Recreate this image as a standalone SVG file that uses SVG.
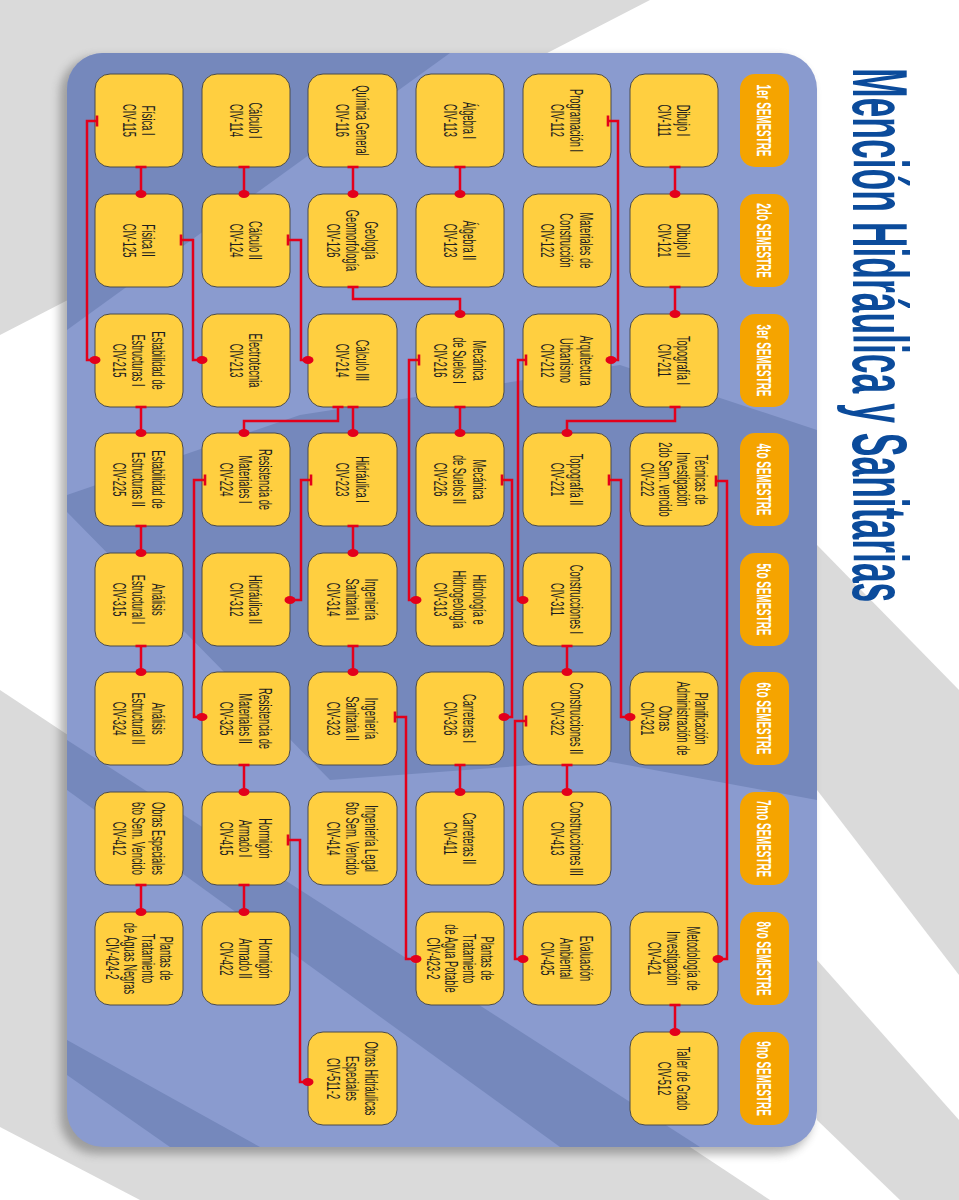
<svg xmlns="http://www.w3.org/2000/svg" width="959" height="1200" viewBox="0 0 959 1200">
<defs>
<style>
.box{fill:#ffcf40;stroke:#4a4a4a;stroke-width:1}
.sem{fill:#f5a400}
.t{font-family:"Liberation Sans",Arial,sans-serif;font-size:19px;fill:#1e1e1e;text-anchor:middle}
.st{font-family:"Liberation Sans",Arial,sans-serif;font-size:21px;font-weight:bold;fill:#ffffff;text-anchor:middle}
.c{fill:none;stroke:#e3001b;stroke-width:2.5;marker-start:url(#tick);marker-end:url(#dot)}
</style>
<marker id="tick" markerUnits="userSpaceOnUse" markerWidth="14" markerHeight="14" viewBox="-7 -7 14 14" refX="0" refY="0" orient="auto"><rect x="-1.3" y="-5.5" width="2.6" height="11" fill="#e3001b"/></marker>
<marker id="dot" markerUnits="userSpaceOnUse" markerWidth="14" markerHeight="14" viewBox="-7 -7 14 14" refX="0" refY="0"><ellipse cx="0" cy="0" rx="5.5" ry="4" fill="#e3001b"/></marker>
<clipPath id="pc"><rect x="67" y="53" width="750" height="1094" rx="36"/></clipPath>
<filter id="sh" x="-10%" y="-10%" width="120%" height="120%"><feGaussianBlur stdDeviation="5"/></filter>
</defs>
<rect width="959" height="1200" fill="#ffffff"/>
<g id="background" fill="#dadada">
<polygon points="0,0 650,0 0,335"/>
<polygon points="0,690 0,1127 140,1200 770,1200"/>
<polygon points="817,545 959,690 959,975 817,790"/>
<polygon points="817,960 959,1120 959,1200 900,1200 817,1120"/>
</g>
<rect x="60" y="57" width="752" height="1097" rx="36" fill="#555" opacity="0.45" filter="url(#sh)"/>
<g id="panel">
<rect x="67" y="53" width="750" height="1094" rx="36" fill="#8a9bcf"/>
<g clip-path="url(#pc)" fill="#7588bc">
<polygon points="67,53 450,53 67,330"/>
<polygon points="67,495 300,415 620,365 817,430 817,800 600,760 330,780 67,512"/>
<polygon points="67,740 67,790 560,1147 700,1147"/>
<polygon points="67,1040 67,1075 170,1147 260,1147"/>
</g>
</g>
<text id="title" transform="translate(853,68) rotate(90) scale(0.455,1)" font-family="'Liberation Sans',Arial,sans-serif" font-size="78" font-weight="bold" fill="#0b4b9b">Mención Hidráulica y Sanitarias</text>

<g id="semesters">
<g id="s1"><rect class="sem" x="740" y="74" width="49" height="93" rx="15"/><text class="st" transform="translate(764.5,120.5) rotate(90) scale(0.47,1)" y="7.5">1er SEMESTRE</text></g>
<g id="s2"><rect class="sem" x="740" y="194" width="49" height="93" rx="15"/><text class="st" transform="translate(764.5,240.5) rotate(90) scale(0.47,1)" y="7.5">2do SEMESTRE</text></g>
<g id="s3"><rect class="sem" x="740" y="314" width="49" height="93" rx="15"/><text class="st" transform="translate(764.5,360.5) rotate(90) scale(0.47,1)" y="7.5">3er SEMESTRE</text></g>
<g id="s4"><rect class="sem" x="740" y="433" width="49" height="93" rx="15"/><text class="st" transform="translate(764.5,479.5) rotate(90) scale(0.47,1)" y="7.5">4to SEMESTRE</text></g>
<g id="s5"><rect class="sem" x="740" y="553" width="49" height="93" rx="15"/><text class="st" transform="translate(764.5,599.5) rotate(90) scale(0.47,1)" y="7.5">5to SEMESTRE</text></g>
<g id="s6"><rect class="sem" x="740" y="672" width="49" height="93" rx="15"/><text class="st" transform="translate(764.5,718.5) rotate(90) scale(0.47,1)" y="7.5">6to SEMESTRE</text></g>
<g id="s7"><rect class="sem" x="740" y="792" width="49" height="93" rx="15"/><text class="st" transform="translate(764.5,838.5) rotate(90) scale(0.47,1)" y="7.5">7mo SEMESTRE</text></g>
<g id="s8"><rect class="sem" x="740" y="912" width="49" height="93" rx="15"/><text class="st" transform="translate(764.5,958.5) rotate(90) scale(0.47,1)" y="7.5">8vo SEMESTRE</text></g>
<g id="s9"><rect class="sem" x="740" y="1032" width="49" height="93" rx="15"/><text class="st" transform="translate(764.5,1078.5) rotate(90) scale(0.47,1)" y="7.5">9no SEMESTRE</text></g>
</g>

<g id="nodes">
<!-- row 1 -->
<g id="civ115"><rect class="box" x="95" y="74" width="88" height="93" rx="15"/><text class="t" transform="translate(139,120.5) rotate(90) scale(0.49,1)"><tspan x="0" y="-3.2">Física I</tspan><tspan x="0" y="16.3">CIV-115</tspan></text></g>
<g id="civ114"><rect class="box" x="202" y="74" width="88" height="93" rx="15"/><text class="t" transform="translate(246,120.5) rotate(90) scale(0.49,1)"><tspan x="0" y="-3.2">Cálculo I</tspan><tspan x="0" y="16.3">CIV-114</tspan></text></g>
<g id="civ116"><rect class="box" x="308" y="74" width="89" height="93" rx="15"/><text class="t" transform="translate(352.5,120.5) rotate(90) scale(0.49,1)"><tspan x="0" y="-3.2">Química General</tspan><tspan x="0" y="16.3">CIV-116</tspan></text></g>
<g id="civ113"><rect class="box" x="416" y="74" width="88" height="93" rx="15"/><text class="t" transform="translate(460,120.5) rotate(90) scale(0.49,1)"><tspan x="0" y="-3.2">Álgebra I</tspan><tspan x="0" y="16.3">CIV-113</tspan></text></g>
<g id="civ112"><rect class="box" x="523" y="74" width="88" height="93" rx="15"/><text class="t" transform="translate(567,120.5) rotate(90) scale(0.49,1)"><tspan x="0" y="-3.2">Programación I</tspan><tspan x="0" y="16.3">CIV-112</tspan></text></g>
<g id="civ111"><rect class="box" x="630" y="74" width="88" height="93" rx="15"/><text class="t" transform="translate(674,120.5) rotate(90) scale(0.49,1)"><tspan x="0" y="-3.2">Dibujo I</tspan><tspan x="0" y="16.3">CIV-111</tspan></text></g>
<!-- row 2 -->
<g id="civ125"><rect class="box" x="95" y="194" width="88" height="93" rx="15"/><text class="t" transform="translate(139,240.5) rotate(90) scale(0.49,1)"><tspan x="0" y="-3.2">Física II</tspan><tspan x="0" y="16.3">CIV-125</tspan></text></g>
<g id="civ124"><rect class="box" x="202" y="194" width="88" height="93" rx="15"/><text class="t" transform="translate(246,240.5) rotate(90) scale(0.49,1)"><tspan x="0" y="-3.2">Cálculo II</tspan><tspan x="0" y="16.3">CIV-124</tspan></text></g>
<g id="civ126"><rect class="box" x="308" y="194" width="89" height="93" rx="15"/><text class="t" transform="translate(352.5,240.5) rotate(90) scale(0.49,1)"><tspan x="0" y="-13">Geología</tspan><tspan x="0" y="6.5">Geomorfología</tspan><tspan x="0" y="26">CIV-126</tspan></text></g>
<g id="civ123"><rect class="box" x="416" y="194" width="88" height="93" rx="15"/><text class="t" transform="translate(460,240.5) rotate(90) scale(0.49,1)"><tspan x="0" y="-3.2">Álgebra II</tspan><tspan x="0" y="16.3">CIV-123</tspan></text></g>
<g id="civ122"><rect class="box" x="523" y="194" width="88" height="93" rx="15"/><text class="t" transform="translate(567,240.5) rotate(90) scale(0.49,1)"><tspan x="0" y="-13">Materiales de</tspan><tspan x="0" y="6.5">Construcción</tspan><tspan x="0" y="26">CIV-122</tspan></text></g>
<g id="civ121"><rect class="box" x="630" y="194" width="88" height="93" rx="15"/><text class="t" transform="translate(674,240.5) rotate(90) scale(0.49,1)"><tspan x="0" y="-3.2">Dibujo II</tspan><tspan x="0" y="16.3">CIV-121</tspan></text></g>
<!-- row 3 -->
<g id="civ215"><rect class="box" x="95" y="314" width="88" height="93" rx="15"/><text class="t" transform="translate(139,360.5) rotate(90) scale(0.49,1)"><tspan x="0" y="-13">Estabilidad de</tspan><tspan x="0" y="6.5">Estructuras I</tspan><tspan x="0" y="26">CIV-215</tspan></text></g>
<g id="civ213"><rect class="box" x="202" y="314" width="88" height="93" rx="15"/><text class="t" transform="translate(246,360.5) rotate(90) scale(0.49,1)"><tspan x="0" y="-3.2">Electrotecnia</tspan><tspan x="0" y="16.3">CIV-213</tspan></text></g>
<g id="civ214"><rect class="box" x="308" y="314" width="89" height="93" rx="15"/><text class="t" transform="translate(352.5,360.5) rotate(90) scale(0.49,1)"><tspan x="0" y="-3.2">Cálculo III</tspan><tspan x="0" y="16.3">CIV-214</tspan></text></g>
<g id="civ216"><rect class="box" x="416" y="314" width="88" height="93" rx="15"/><text class="t" transform="translate(460,360.5) rotate(90) scale(0.49,1)"><tspan x="0" y="-13">Mecánica</tspan><tspan x="0" y="6.5">de Suelos I</tspan><tspan x="0" y="26">CIV-216</tspan></text></g>
<g id="civ212"><rect class="box" x="523" y="314" width="88" height="93" rx="15"/><text class="t" transform="translate(567,360.5) rotate(90) scale(0.49,1)"><tspan x="0" y="-13">Arquitectura</tspan><tspan x="0" y="6.5">Urbanismo</tspan><tspan x="0" y="26">CIV-212</tspan></text></g>
<g id="civ211"><rect class="box" x="630" y="314" width="88" height="93" rx="15"/><text class="t" transform="translate(674,360.5) rotate(90) scale(0.49,1)"><tspan x="0" y="-3.2">Topografía I</tspan><tspan x="0" y="16.3">CIV-211</tspan></text></g>
<!-- row 4 -->
<g id="civ225"><rect class="box" x="95" y="433" width="88" height="93" rx="15"/><text class="t" transform="translate(139,479.5) rotate(90) scale(0.49,1)"><tspan x="0" y="-13">Estabilidad de</tspan><tspan x="0" y="6.5">Estructuras II</tspan><tspan x="0" y="26">CIV-225</tspan></text></g>
<g id="civ224"><rect class="box" x="202" y="433" width="88" height="93" rx="15"/><text class="t" transform="translate(246,479.5) rotate(90) scale(0.49,1)"><tspan x="0" y="-13">Resistencia de</tspan><tspan x="0" y="6.5">Materiales I</tspan><tspan x="0" y="26">CIV-224</tspan></text></g>
<g id="civ223"><rect class="box" x="308" y="433" width="89" height="93" rx="15"/><text class="t" transform="translate(352.5,479.5) rotate(90) scale(0.49,1)"><tspan x="0" y="-3.2">Hidráulica I</tspan><tspan x="0" y="16.3">CIV-223</tspan></text></g>
<g id="civ226"><rect class="box" x="416" y="433" width="88" height="93" rx="15"/><text class="t" transform="translate(460,479.5) rotate(90) scale(0.49,1)"><tspan x="0" y="-13">Mecánica</tspan><tspan x="0" y="6.5">de Suelos II</tspan><tspan x="0" y="26">CIV-226</tspan></text></g>
<g id="civ221"><rect class="box" x="523" y="433" width="88" height="93" rx="15"/><text class="t" transform="translate(567,479.5) rotate(90) scale(0.49,1)"><tspan x="0" y="-3.2">Topografía II</tspan><tspan x="0" y="16.3">CIV-221</tspan></text></g>
<g id="civ222"><rect class="box" x="630" y="433" width="88" height="93" rx="15"/><text class="t" transform="translate(674,479.5) rotate(90) scale(0.49,1)"><tspan x="0" y="-21">Técnicas de</tspan><tspan x="0" y="-3">Investigación</tspan><tspan x="0" y="15">2do Sem. vencido</tspan><tspan x="0" y="33">CIV-222</tspan></text></g>
<!-- row 5 -->
<g id="civ315"><rect class="box" x="95" y="553" width="88" height="93" rx="15"/><text class="t" transform="translate(139,599.5) rotate(90) scale(0.49,1)"><tspan x="0" y="-13">Análisis</tspan><tspan x="0" y="6.5">Estructural I</tspan><tspan x="0" y="26">CIV-315</tspan></text></g>
<g id="civ312"><rect class="box" x="202" y="553" width="88" height="93" rx="15"/><text class="t" transform="translate(246,599.5) rotate(90) scale(0.49,1)"><tspan x="0" y="-3.2">Hidráulica II</tspan><tspan x="0" y="16.3">CIV-312</tspan></text></g>
<g id="civ314"><rect class="box" x="308" y="553" width="89" height="93" rx="15"/><text class="t" transform="translate(352.5,599.5) rotate(90) scale(0.49,1)"><tspan x="0" y="-13">Ingeniería</tspan><tspan x="0" y="6.5">Sanitaria I</tspan><tspan x="0" y="26">CIV-314</tspan></text></g>
<g id="civ313"><rect class="box" x="416" y="553" width="88" height="93" rx="15"/><text class="t" transform="translate(460,599.5) rotate(90) scale(0.49,1)"><tspan x="0" y="-13">Hidrología e</tspan><tspan x="0" y="6.5">Hidrogeología</tspan><tspan x="0" y="26">CIV-313</tspan></text></g>
<g id="civ311"><rect class="box" x="523" y="553" width="88" height="93" rx="15"/><text class="t" transform="translate(567,599.5) rotate(90) scale(0.49,1)"><tspan x="0" y="-3.2">Construcciones I</tspan><tspan x="0" y="16.3">CIV-311</tspan></text></g>
<!-- row 6 -->
<g id="civ324"><rect class="box" x="95" y="672" width="88" height="93" rx="15"/><text class="t" transform="translate(139,718.5) rotate(90) scale(0.49,1)"><tspan x="0" y="-13">Análisis</tspan><tspan x="0" y="6.5">Estructural II</tspan><tspan x="0" y="26">CIV-324</tspan></text></g>
<g id="civ325"><rect class="box" x="202" y="672" width="88" height="93" rx="15"/><text class="t" transform="translate(246,718.5) rotate(90) scale(0.49,1)"><tspan x="0" y="-13">Resistencia de</tspan><tspan x="0" y="6.5">Materiales II</tspan><tspan x="0" y="26">CIV-325</tspan></text></g>
<g id="civ323"><rect class="box" x="308" y="672" width="89" height="93" rx="15"/><text class="t" transform="translate(352.5,718.5) rotate(90) scale(0.49,1)"><tspan x="0" y="-13">Ingeniería</tspan><tspan x="0" y="6.5">Sanitaria II</tspan><tspan x="0" y="26">CIV-323</tspan></text></g>
<g id="civ326"><rect class="box" x="416" y="672" width="88" height="93" rx="15"/><text class="t" transform="translate(460,718.5) rotate(90) scale(0.49,1)"><tspan x="0" y="-3.2">Carreteras I</tspan><tspan x="0" y="16.3">CIV-326</tspan></text></g>
<g id="civ322"><rect class="box" x="523" y="672" width="88" height="93" rx="15"/><text class="t" transform="translate(567,718.5) rotate(90) scale(0.49,1)"><tspan x="0" y="-3.2">Construcciones II</tspan><tspan x="0" y="16.3">CIV-322</tspan></text></g>
<g id="civ321"><rect class="box" x="630" y="672" width="88" height="93" rx="15"/><text class="t" transform="translate(674,718.5) rotate(90) scale(0.49,1)"><tspan x="0" y="-21">Planificación</tspan><tspan x="0" y="-3">Administración de</tspan><tspan x="0" y="15">Obras</tspan><tspan x="0" y="33">CIV-321</tspan></text></g>
<!-- row 7 -->
<g id="civ412"><rect class="box" x="95" y="792" width="88" height="93" rx="15"/><text class="t" transform="translate(139,838.5) rotate(90) scale(0.49,1)"><tspan x="0" y="-13">Obras Especiales</tspan><tspan x="0" y="6.5">6to Sem. Vencido</tspan><tspan x="0" y="26">CIV-412</tspan></text></g>
<g id="civ415"><rect class="box" x="202" y="792" width="88" height="93" rx="15"/><text class="t" transform="translate(246,838.5) rotate(90) scale(0.49,1)"><tspan x="0" y="-13">Hormigón</tspan><tspan x="0" y="6.5">Armado I</tspan><tspan x="0" y="26">CIV-415</tspan></text></g>
<g id="civ414"><rect class="box" x="308" y="792" width="89" height="93" rx="15"/><text class="t" transform="translate(352.5,838.5) rotate(90) scale(0.49,1)"><tspan x="0" y="-13">Ingeniería Legal</tspan><tspan x="0" y="6.5">6to Sem. Vencido</tspan><tspan x="0" y="26">CIV-414</tspan></text></g>
<g id="civ411"><rect class="box" x="416" y="792" width="88" height="93" rx="15"/><text class="t" transform="translate(460,838.5) rotate(90) scale(0.49,1)"><tspan x="0" y="-3.2">Carreteras II</tspan><tspan x="0" y="16.3">CIV-411</tspan></text></g>
<g id="civ413"><rect class="box" x="523" y="792" width="88" height="93" rx="15"/><text class="t" transform="translate(567,838.5) rotate(90) scale(0.49,1)"><tspan x="0" y="-3.2">Construcciones III</tspan><tspan x="0" y="16.3">CIV-413</tspan></text></g>
<!-- row 8 -->
<g id="civ4242"><rect class="box" x="95" y="912" width="88" height="93" rx="15"/><text class="t" transform="translate(139,958.5) rotate(90) scale(0.49,1)"><tspan x="0" y="-21">Plantas de</tspan><tspan x="0" y="-3">Tratamiento</tspan><tspan x="0" y="15">de Aguas Negras</tspan><tspan x="0" y="33">CIV-424-2</tspan></text></g>
<g id="civ422"><rect class="box" x="202" y="912" width="88" height="93" rx="15"/><text class="t" transform="translate(246,958.5) rotate(90) scale(0.49,1)"><tspan x="0" y="-13">Hormigón</tspan><tspan x="0" y="6.5">Armado II</tspan><tspan x="0" y="26">CIV-422</tspan></text></g>
<g id="civ4232"><rect class="box" x="416" y="912" width="88" height="93" rx="15"/><text class="t" transform="translate(460,958.5) rotate(90) scale(0.49,1)"><tspan x="0" y="-21">Plantas de</tspan><tspan x="0" y="-3">Tratamiento</tspan><tspan x="0" y="15">de Agua Potable</tspan><tspan x="0" y="33">CIV-423-2</tspan></text></g>
<g id="civ425"><rect class="box" x="523" y="912" width="88" height="93" rx="15"/><text class="t" transform="translate(567,958.5) rotate(90) scale(0.49,1)"><tspan x="0" y="-13">Evaluación</tspan><tspan x="0" y="6.5">Ambiental</tspan><tspan x="0" y="26">CIV-425</tspan></text></g>
<g id="civ421"><rect class="box" x="630" y="912" width="88" height="93" rx="15"/><text class="t" transform="translate(674,958.5) rotate(90) scale(0.49,1)"><tspan x="0" y="-13">Metodología de</tspan><tspan x="0" y="6.5">Investigación</tspan><tspan x="0" y="26">CIV-421</tspan></text></g>
<!-- row 9 -->
<g id="civ5112"><rect class="box" x="308" y="1032" width="89" height="93" rx="15"/><text class="t" transform="translate(352.5,1078.5) rotate(90) scale(0.49,1)"><tspan x="0" y="-13">Obras Hidráulicas</tspan><tspan x="0" y="6.5">Especiales</tspan><tspan x="0" y="26">CIV-511-2</tspan></text></g>
<g id="civ512"><rect class="box" x="630" y="1032" width="88" height="93" rx="15"/><text class="t" transform="translate(674,1078.5) rotate(90) scale(0.49,1)"><tspan x="0" y="-3.2">Taller de Grado</tspan><tspan x="0" y="16.3">CIV-512</tspan></text></g>
</g>

<g id="connectors">
<path class="c" d="M141,167 V194"/>
<path class="c" d="M141,407 V433"/>
<path class="c" d="M141,526 V553"/>
<path class="c" d="M141,646 V672"/>
<path class="c" d="M141,885 V912"/>
<path class="c" d="M244,167 V194"/>
<path class="c" d="M244,765 V792"/>
<path class="c" d="M244,885 V912"/>
<path class="c" d="M353,167 V194"/>
<path class="c" d="M353,407 V433"/>
<path class="c" d="M353,526 V553"/>
<path class="c" d="M353,646 V672"/>
<path class="c" d="M460,167 V194"/>
<path class="c" d="M460,407 V433"/>
<path class="c" d="M460,765 V792"/>
<path class="c" d="M567,646 V672"/>
<path class="c" d="M567,765 V792"/>
<path class="c" d="M675,167 V194"/>
<path class="c" d="M675,287 V314"/>
<path class="c" d="M675,1005 V1032"/>
<path class="c" d="M97,121 H87 V360 H95"/>
<path class="c" d="M181,240 H193 V360 H202"/>
<path class="c" d="M288,240 H301 V360 H308"/>
<path class="c" d="M353,287 V299 H460 V314"/>
<path class="c" d="M608,121 H618 V360 H611"/>
<path class="c" d="M419,360 H409 V600 H416"/>
<path class="c" d="M526,360 H518 V600 H523"/>
<path class="c" d="M675,407 V421 H567 V433"/>
<path class="c" d="M338,407 V421 H244 V433"/>
<path class="c" d="M716,481 H727 V959 H718"/>
<path class="c" d="M609,480 H621 V717 H630"/>
<path class="c" d="M205,480 H194 V717 H202"/>
<path class="c" d="M311,480 H301 V600 H290"/>
<path class="c" d="M502,480 H512 V717 H504"/>
<path class="c" d="M395,717 H406 V959 H416"/>
<path class="c" d="M526,721 H515 V959 H523"/>
<path class="c" d="M288,840 H300 V1082 H308"/>
</g>
</svg>
